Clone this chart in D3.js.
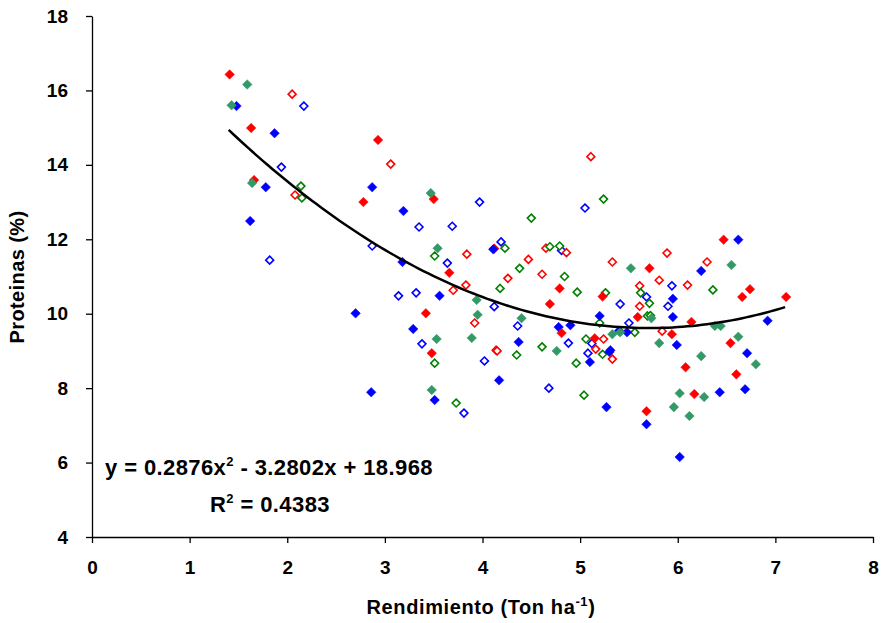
<!DOCTYPE html><html><head><meta charset="utf-8"><script src="https://cdn.jsdelivr.net/npm/d3@7"></script>
<style>body{margin:0;background:#fff}text{font-family:Arial,"Liberation Sans",sans-serif;font-weight:bold}</style></head><body>
<svg id="c" width="882" height="623"></svg>
<script>
const xTicks=[0,1,2,3,4,5,6,7,8];
const yTicks=[4,6,8,10,12,14,16,18];
const blueFilled=[[1.48,15.58],[1.87,14.85],[1.78,13.40],[1.62,12.49],[2.87,13.40],[3.19,12.76],[3.18,11.39],[3.56,10.48],[2.70,10.01],[3.29,9.59],[2.86,7.89],[3.51,7.68],[4.11,11.73],[5.95,10.4],[5.2,9.94],[5.95,9.91],[4.78,9.64],[4.90,9.69],[5.40,9.54],[5.31,9.02],[5.30,8.97],[5.10,8.70],[4.37,9.24],[4.17,8.21],[5.27,7.49],[5.68,7.03],[6.02,6.15],[5.99,9.16],[6.62,11.99],[6.24,11.15],[6.92,9.81],[6.71,8.94],[6.43,7.89],[6.69,7.97],[5.48,9.5]];
const redFilled=[[1.41,16.43],[1.63,14.99],[1.66,13.59],[2.93,14.67],[2.78,13.0],[3.50,13.08],[3.66,11.1],[3.42,10.01],[3.48,8.94],[4.79,10.68],[4.69,10.26],[5.23,10.46],[5.71,11.22],[5.59,9.91],[4.81,9.48],[5.15,9.34],[5.94,9.45],[5.68,7.38],[6.47,11.99],[6.66,10.45],[6.74,10.66],[7.11,10.45],[6.14,9.78],[6.54,9.21],[6.08,8.56],[6.60,8.37],[6.17,7.84]];
const greenFilled=[[1.59,16.16],[1.43,15.6],[1.64,13.51],[3.47,13.24],[3.54,11.76],[3.94,10.37],[3.95,9.97],[3.53,9.32],[3.89,9.35],[3.48,7.95],[5.52,11.22],[4.40,9.88],[5.73,9.88],[5.33,9.45],[5.41,9.5],[4.76,9.0],[5.81,9.21],[5.96,7.49],[6.55,11.31],[6.38,9.67],[6.44,9.67],[6.62,9.38],[6.24,8.86],[6.80,8.64],[6.02,7.86],[6.27,7.76],[6.12,7.25]];
const blueOpen=[[2.17,15.58],[1.94,13.94],[1.82,11.44],[2.87,11.82],[3.97,13.0],[3.35,12.33],[3.69,12.35],[3.64,11.36],[3.14,10.48],[3.32,10.56],[4.12,10.19],[3.38,9.19],[4.02,8.73],[3.81,7.33],[5.05,12.84],[4.19,11.93],[4.81,11.7],[5.94,10.75],[5.68,10.45],[5.9,10.2],[5.41,10.26],[4.36,9.67],[4.88,9.21],[5.12,9.2],[5.08,8.94],[4.68,8.0],[5.5,9.75]];
const redOpen=[[2.05,15.90],[2.08,13.19],[3.06,14.02],[3.84,11.6],[3.83,10.77],[3.70,10.63],[3.92,9.75],[4.14,9.02],[5.11,14.22],[4.12,11.75],[4.65,11.76],[4.86,11.64],[4.47,11.46],[4.26,10.95],[4.61,11.06],[5.33,11.39],[5.89,11.63],[5.61,10.75],[5.81,10.9],[5.61,10.2],[5.24,9.32],[5.16,9.05],[5.33,8.78],[4.15,9.0],[5.84,9.53],[6.30,11.39],[6.10,10.77]];
const greenOpen=[[2.14,13.43],[2.15,13.11],[3.51,11.55],[3.51,8.67],[3.73,7.6],[5.24,13.08],[4.5,12.57],[4.23,11.76],[4.69,11.8],[4.79,11.82],[4.38,11.22],[4.84,11.0],[4.97,10.58],[4.18,10.68],[5.26,10.56],[5.62,10.56],[5.71,10.28],[5.69,9.94],[5.2,9.75],[5.23,8.91],[4.96,8.67],[4.61,9.11],[4.35,8.89],[5.06,9.32],[5.04,7.81],[5.72,9.95],[6.36,10.64],[5.56,9.5]];
const coef=[0.2876,-3.2802,18.968], trendRange=[1.4,7.12];

const svg=d3.select("#c");
const x=d3.scaleLinear().domain([0,8]).range([92,873]);
const y=d3.scaleLinear().domain([4,18]).range([537,16]);
svg.append("g").attr("transform","translate(0,537)").call(d3.axisBottom(x).tickValues(xTicks).tickSize(6).tickSizeOuter(0).tickPadding(18))
 .call(g=>{g.selectAll("text").attr("font-size",19).attr("fill","#000");g.selectAll("line,path").attr("stroke","#000").attr("stroke-width",1.3)});
svg.append("g").attr("transform","translate(92,0)").call(d3.axisLeft(y).tickValues(yTicks).tickSize(6).tickSizeOuter(0).tickPadding(18))
 .call(g=>{g.selectAll("text").attr("font-size",19).attr("fill","#000");g.selectAll("line,path").attr("stroke","#000").attr("stroke-width",1.3)});
const sym=d3.symbol().type(d3.symbolDiamond2);
function draw(data,col,filled){
 svg.append("g").selectAll("path").data(data).join("path")
  .attr("transform",d=>`translate(${x(d[0])},${y(d[1])})`)
  .attr("d",sym.size(filled?58:40)())
  .attr("fill",filled?col:"#fff").attr("stroke",col).attr("stroke-width",filled?0.5:1.6);
}
draw(blueOpen,"#0000FF",false);draw(redOpen,"#FF0000",false);draw(greenOpen,"#008000",false);
draw(blueFilled,"#0000FF",true);draw(redFilled,"#FF0000",true);draw(greenFilled,"#339966",true);
const xs=d3.range(trendRange[0],trendRange[1]+0.001,0.05);
svg.append("path").attr("d",d3.line().x(d=>x(d)).y(d=>y(coef[0]*d*d+coef[1]*d+coef[2])).curve(d3.curveLinear)(xs))
 .attr("fill","none").attr("stroke","#000").attr("stroke-width",2.5);
const t=svg.append("text").attr("x",105).attr("y",475).attr("font-size",22).attr("letter-spacing",0.4);
t.append("tspan").text("y = 0.2876x");t.append("tspan").attr("font-size",13).attr("dy",-9).text("2");
t.append("tspan").attr("dy",9).text(" - 3.2802x + 18.968");
const r=svg.append("text").attr("x",210).attr("y",512).attr("font-size",22).attr("letter-spacing",0.4);
r.append("tspan").text("R");r.append("tspan").attr("font-size",13).attr("dy",-9).text("2");r.append("tspan").attr("dy",9).text(" = 0.4383");
const xt=svg.append("text").attr("x",481).attr("y",614).attr("text-anchor","middle").attr("font-size",20).attr("letter-spacing",0.6);
xt.append("tspan").text("Rendimiento (Ton ha");xt.append("tspan").attr("font-size",13).attr("dy",-8).text("-1");xt.append("tspan").attr("dy",8).text(")");
svg.append("text").attr("transform","translate(24,277) rotate(-90)").attr("text-anchor","middle").attr("font-size",20).attr("letter-spacing",0.4).text("Proteinas (%)");
</script></body></html>
